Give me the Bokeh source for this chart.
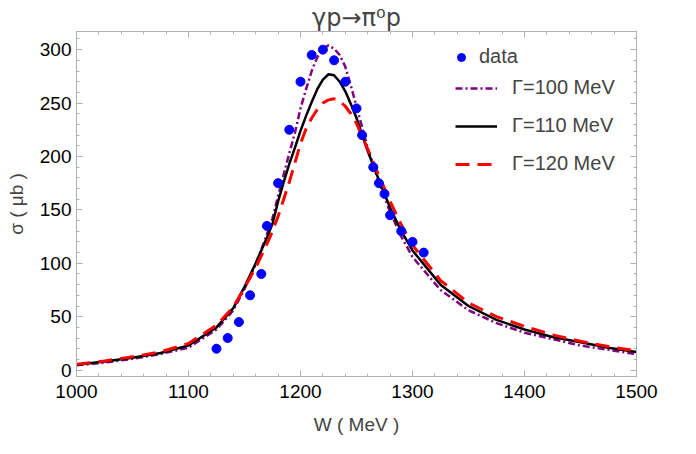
from bokeh.plotting import figure
from bokeh.models import Range1d, LinearAxis, Legend, LegendItem, FixedTicker
from bokeh.embed import file_html
from bokeh.resources import INLINE

# ---- data ----
W_data = [1125, 1135, 1145, 1155, 1165, 1170, 1180, 1190, 1200, 1210, 1220, 1230,
          1240, 1250, 1255, 1265, 1270, 1275, 1280, 1290, 1300, 1310]
sigma_data = [20, 30, 45, 70, 90, 135, 175, 225, 270, 295, 300, 290,
              270, 245, 220, 190, 175, 165, 145, 130, 120, 110]

W_curve = [1000, 1025, 1050, 1075, 1100, 1125, 1140, 1150, 1160, 1170, 1175, 1180,
           1185, 1190, 1195, 1200, 1205, 1210, 1215, 1220, 1225, 1230, 1235, 1240,
           1245, 1250, 1260, 1270, 1280, 1290, 1300, 1325, 1350, 1375, 1400, 1425,
           1450, 1475, 1500]
sigma_G100 = [4.5, 7, 10.5, 15, 21, 38, 56, 76, 99, 127, 142, 163,
              183, 203, 222, 245, 263, 280, 293, 301, 304, 301, 295, 284,
              266, 247, 208, 176, 148, 125, 106, 75, 56, 44, 35, 29,
              23, 19, 15]
sigma_G110 = [5, 8, 11.5, 16, 23, 40, 58, 78, 100, 124, 137, 158,
              176, 193, 208, 224, 238, 251, 263, 272, 277, 276, 270, 261,
              249, 236, 205, 178, 152, 130, 112, 80, 60, 47, 38, 31,
              26, 21, 17]
sigma_G120 = [5.5, 8.5, 12.5, 17, 25, 42, 59, 77, 96, 118, 130, 144,
              160, 176, 194, 212, 226, 236, 244, 250, 253, 254, 252, 247,
              240, 231, 207, 182, 158, 136, 117, 84, 63, 50, 41, 33,
              27, 22, 18]

x_major = [1000, 1100, 1200, 1300, 1400, 1500]
x_minor = list(range(1000, 1501, 20))
y_major = [0, 50, 100, 150, 200, 250, 300]
y_minor = list(range(0, 311, 10))

FONT = "Liberation Sans"
GRAY = "#b0b0b0"

p = figure(width=680, height=438,
           x_range=Range1d(1000, 1500), y_range=Range1d(-6, 317),
           output_backend="svg", toolbar_location=None,
           min_border_left=76, min_border_right=44,
           min_border_top=31, min_border_bottom=62)
p.xgrid.visible = False
p.ygrid.visible = False
p.outline_line_color = GRAY
p.background_fill_color = "white"

p.title.text = "γp→π⁰p"
p.title.align = "center"
p.title.text_font = "DejaVu Sans"
p.title.text_font_size = "24px"
p.title.text_font_style = "normal"
p.title.standoff = 0
p.title.offset = 0

def style_axis(ax):
    ax.axis_line_color = GRAY
    ax.major_tick_line_color = GRAY
    ax.minor_tick_line_color = GRAY
    ax.major_tick_in = 6
    ax.major_tick_out = 0
    ax.minor_tick_in = 3
    ax.minor_tick_out = 0
    ax.major_label_text_font = FONT
    ax.major_label_text_font_size = "19px"
    ax.major_label_text_color = "black"
    ax.axis_label_text_font = FONT
    ax.axis_label_text_font_size = "19px"
    ax.axis_label_text_font_style = "normal"

p.xaxis.ticker = FixedTicker(ticks=x_major, minor_ticks=x_minor)
p.yaxis.ticker = FixedTicker(ticks=y_major, minor_ticks=y_minor)
style_axis(p.xaxis[0])
style_axis(p.yaxis[0])
p.xaxis.axis_label = "W ( MeV )"
p.yaxis.axis_label = "σ ( μb )"
p.xaxis.major_label_standoff = 8
p.yaxis.major_label_standoff = 5
p.xaxis.axis_label_standoff = 13
p.yaxis.axis_label_standoff = 10

top = LinearAxis(ticker=FixedTicker(ticks=x_major, minor_ticks=x_minor),
                 major_label_overrides={t: "" for t in x_major})
right = LinearAxis(ticker=FixedTicker(ticks=y_major, minor_ticks=y_minor),
                   major_label_overrides={t: "" for t in y_major})
style_axis(top)
style_axis(right)
top.major_label_standoff = 0
top.major_label_text_font_size = "1px"
right.major_label_standoff = 0
right.major_label_text_font_size = "1px"
p.add_layout(top, "above")
p.add_layout(right, "right")

r100 = p.line(W_curve, sigma_G100, line_color="#800080", line_width=2.5,
              line_dash="7 3 2 3")
r110 = p.line(W_curve, sigma_G110, line_color="black", line_width=2.5)
r120 = p.line(W_curve, sigma_G120, line_color="#ff0000", line_width=3,
              line_dash="14 8")
rdat = p.scatter(W_data, sigma_data, size=9, fill_color="#0000ff",
                 line_color="#0000ff")

def make_legend(items, loc, gw, standoff, spacing):
    lg = Legend(items=items, location=loc)
    lg.border_line_color = None
    lg.background_fill_alpha = 0
    lg.padding = 0
    lg.margin = 0
    lg.spacing = spacing
    lg.glyph_width = gw
    lg.glyph_height = 20
    lg.label_height = 20
    lg.label_standoff = standoff
    lg.label_text_font = FONT
    lg.label_text_font_size = "20px"
    return lg

leg1 = make_legend([LegendItem(label="data", renderers=[rdat])], (375, 308), 20, 8, 15)
leg2 = make_legend([LegendItem(label="Γ=100 MeV", renderers=[r100]),
                    LegendItem(label="Γ=110 MeV", renderers=[r110]),
                    LegendItem(label="Γ=120 MeV", renderers=[r120])],
                   (379, 201), 42, 15, 15)
p.add_layout(leg1, "center")
p.add_layout(leg2, "center")

open("out.html", "w").write(file_html(p, INLINE))
